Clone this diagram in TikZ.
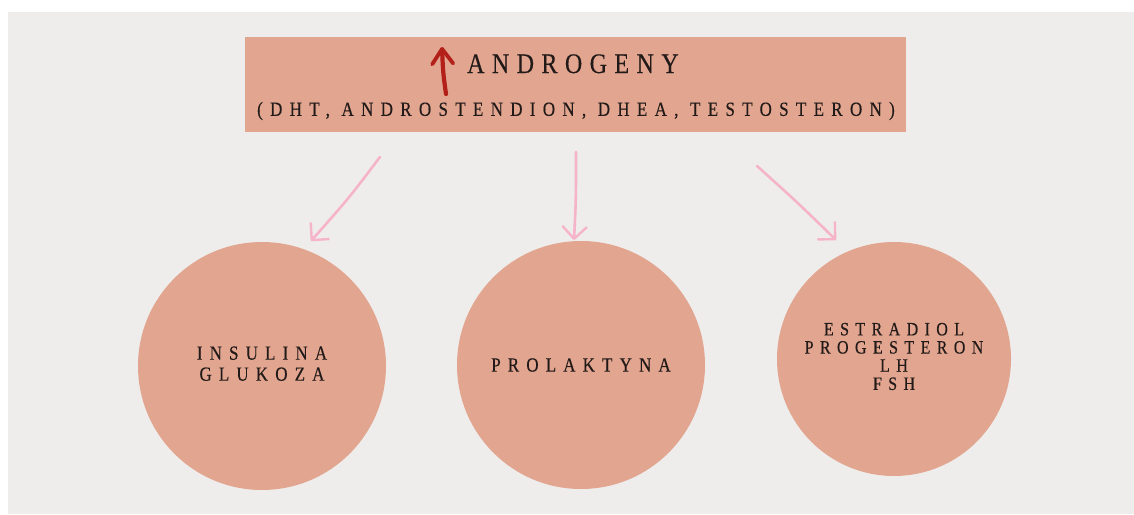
\documentclass[tikz,border=0pt]{standalone}
\usepackage{fontspec}
\usepackage{graphicx}
\setmainfont{Liberation Serif}
\newfontfamily\headfont[LetterSpace=31, FakeBold=0.3]{Liberation Serif}
\newfontfamily\subfont[LetterSpace=43, FakeBold=0.3]{Liberation Serif}
\newfontfamily\circfont[LetterSpace=42, FakeBold=0.3]{Liberation Serif}
\newfontfamily\circfontnarrow[LetterSpace=40, FakeBold=0.3]{Liberation Serif}
\usetikzlibrary{arrows.meta}

% tall, narrow look for the spaced capitals
\newcommand{\tallcaps}[1]{\scalebox{1}[1.18]{#1}}
\newcommand{\stack}[1]{\tallcaps{\begin{tabular}{@{}c@{}}#1\end{tabular}}}

\definecolor{panel}{HTML}{EEEDEB}
\definecolor{salmon}{HTML}{E2A690}
\definecolor{ink}{HTML}{221A18}
\definecolor{pinkline}{HTML}{F6B4CB}
\definecolor{redarrow}{HTML}{B3201A}

\tikzset{
  bubble/.style={circle, fill=salmon, inner sep=0pt, text=ink, align=center},
  linkarrow/.style={draw=pinkline, line width=2.6pt, line cap=round,
    -{Straight Barb[length=12pt, width=24pt, line width=2.4pt, round]}},
  uparrow/.style={draw=redarrow, line width=4.2pt, line cap=round,
    -{Straight Barb[length=15pt, width=21pt, line width=3.8pt, round]}},
}

\begin{document}
\begin{tikzpicture}[x=1pt, y=-1pt]
  \useasboundingbox (0,0) rectangle (1134,514);
  \fill[white] (0,0) rectangle (1134,514);
  \fill[panel] (8,12) rectangle (1134,514);

  % header box
  \node[fill=salmon, minimum width=661pt, minimum height=95pt, inner sep=0pt]
    (box) at (575.5,84.5) {};
  \node[text=ink, anchor=base west, inner sep=0pt,
        font=\headfont\fontsize{24}{28}\selectfont]
    (title) at (467,73) {\tallcaps{ANDROGENY}};
  \node[text=ink, inner sep=0pt, font=\subfont\fontsize{17}{20}\selectfont]
    (sub) at (576,111) {\tallcaps{(DHT, ANDROSTENDION, DHEA, TESTOSTERON)}};
  \coordinate (upA) at (446,94);
  \coordinate (upB) at (442,47);
  \draw[uparrow] (upA) .. controls (443,72) .. (upB);

  % bubbles
  \node[bubble, minimum size=248pt, font=\circfont\fontsize{17}{17.8}\selectfont]
    (c1) at (262,366) {\stack{INSULINA\\GLUKOZA}};
  \node[bubble, minimum size=248pt, font=\circfont\fontsize{17}{18}\selectfont]
    (c2) at (581,365) {\tallcaps{PROLAKTYNA}};
  \node[bubble, minimum size=234pt, font=\circfontnarrow\fontsize{16}{15.4}\selectfont]
    (c3) at (894,359) {\stack{ESTRADIOL\\PROGESTERON\\LH\\FSH}};

  % links from the header to the bubbles
  \coordinate (l1) at (380,157);
  \coordinate (l2) at (576,152);
  \coordinate (l3) at (757,166);
  \coordinate (t1) at (311,241);
  \coordinate (t2) at (574,240);
  \coordinate (t3) at (836,240);
  \draw[linkarrow] (l1) .. controls (349,198) .. (t1);
  \draw[linkarrow] (l2) .. controls (576,200) .. (t2);
  \draw[linkarrow] (l3) .. controls (797,202) .. (t3);
\end{tikzpicture}
\end{document}
